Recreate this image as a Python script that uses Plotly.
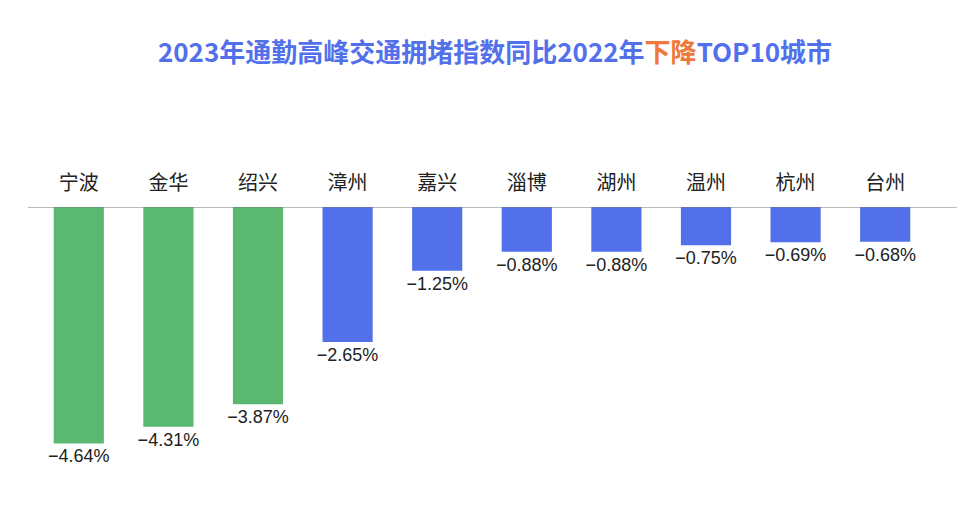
import plotly.graph_objects as go

cities = ["宁波","金华","绍兴","漳州","嘉兴","淄博","湖州","温州","杭州","台州"]
values = [-4.64,-4.31,-3.87,-2.65,-1.25,-0.88,-0.88,-0.75,-0.69,-0.68]
colors = ["#5bb870"]*3 + ["#5170ea"]*7
labels = ["\u2212%.2f%%" % abs(v) for v in values]

fig = go.Figure(go.Bar(
    x=cities, y=values, marker=dict(color=colors, line_width=0),
    text=labels, textposition="outside", cliponaxis=False, constraintext="none",
    textfont=dict(size=18, color="#222", family="Liberation Sans, Arial"),
    width=0.56))

fig.update_layout(
    width=974, height=522, plot_bgcolor="white", paper_bgcolor="white",
    margin=dict(l=26, r=52, t=199, b=58), showlegend=False,
    title=dict(text="2023年通勤高峰交通拥堵指数同比2022年<span style='color:#f0783a'>下降</span>TOP10城市",
               x=0.5, xanchor="center", y=0.914, yanchor="middle",
               font=dict(size=26, color="#5170ea", family="Noto Sans CJK SC", weight="bold")),
    xaxis=dict(side="top", showline=False, ticks="", ticklabelstandoff=12,
               tickfont=dict(size=20, color="#222", family="Noto Sans CJK SC")),
    yaxis=dict(range=[-5.2, 0], visible=False),
    shapes=[dict(type="line", xref="paper", yref="y", x0=-0.007, x1=1.03, y0=0, y1=0,
                 line=dict(color="#777", width=1))],
)
fig.write_html("out.html")
